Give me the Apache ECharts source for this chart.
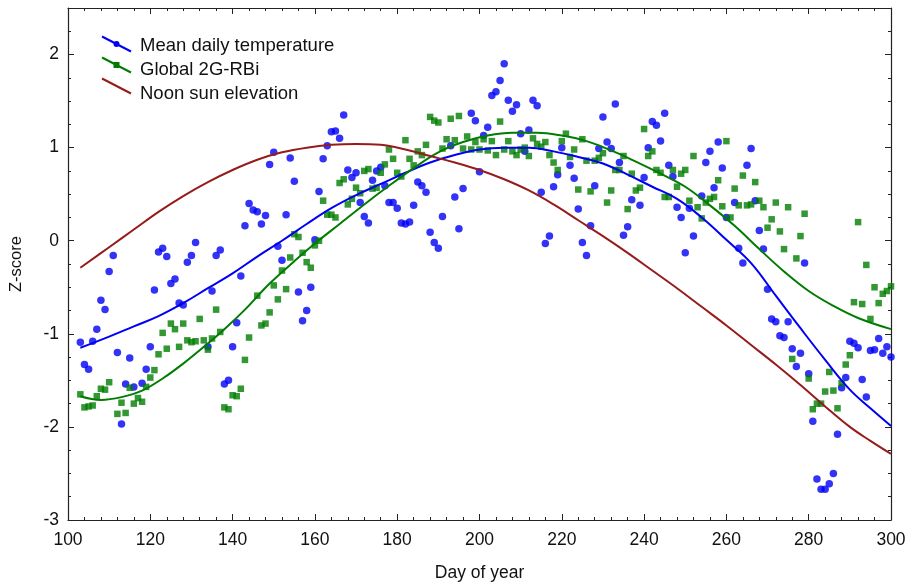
<!DOCTYPE html>
<html>
<head>
<meta charset="utf-8">
<script src="https://cdn.jsdelivr.net/npm/echarts@6/dist/echarts.min.js"></script>
<style>
  html, body { margin: 0; padding: 0; background: #fff; }
  #chart { width: 918px; height: 587px; }
</style>
</head>
<body>
<div id="chart"></div>
<script>
// mean daily temperature (z-score), by day of year
const tempDays = [103,104,105,106,107,108,109,110,111,112,113,114,115,116,118,119,120,121,122,123,124,125,126,127,128,129,130,131,
  134,135,136,137,138,139,140,141,142,143,144,145,146,147,148,149,150,151,152,153,154,155,156,157,158,159,160,161,162,163,164,165,166,167,
  168,169,170,171,172,173,174,175,176,177,178,179,180,181,182,183,184,185,186,187,188,189,190,191,193,194,195,196,198,199,200,201,202,
  203,204,205,206,207,208,209,210,211,212,213,214,215,216,217,218,219,220,222,223,224,225,226,227,228,229,230,231,232,233,234,235,236,
  237,239,240,241,242,243,244,245,246,247,248,249,250,251,252,254,255,256,257,258,259,260,262,263,264,265,266,267,268,269,270,271,272,
  273,274,275,276,277,278,279,280,281,282,283,284,285,286,287,288,289,290,291,292,293,294,295,296,297,298,299,300];
const tempValues = [-1.09,-1.33,-1.38,-1.08,-0.95,-0.64,-0.74,-0.33,-0.16,-1.20,-1.97,-1.54,-1.26,-1.57,-1.53,-1.38,-1.14,-0.53,-0.12,-0.08,-0.17,-0.46,-0.41,-0.67,-0.69,-0.23,-0.16,-0.02,
  -1.14,-0.54,-0.16,-0.10,-1.54,-1.50,-1.14,-0.88,-0.38,0.16,0.40,0.33,0.31,0.18,0.27,0.82,0.95,-0.06,-0.21,0.28,0.89,0.64,-0.55,-0.86,-0.75,-0.50,0.01,0.53,0.88,1.02,1.17,1.18,1.10,1.35,
  0.76,0.68,0.73,0.41,0.26,0.19,0.65,0.75,0.79,0.59,0.41,0.41,0.35,0.19,0.18,0.20,0.38,0.63,0.59,0.52,0.09,-0.02,-0.08,0.26,1.02,0.47,0.13,0.56,1.37,1.29,0.74,1.13,1.22,
  1.56,1.60,1.72,1.90,1.51,1.39,1.46,1.15,0.96,1.19,1.51,1.45,0.52,-0.03,0.05,0.58,0.71,1.00,0.81,0.67,0.34,-0.02,-0.16,0.16,0.59,0.99,1.33,1.06,0.99,1.47,0.84,0.06,0.15,
  0.44,0.38,0.68,1.00,1.28,1.24,1.07,1.37,0.81,0.69,0.36,0.25,-0.13,0.35,0.05,0.48,0.84,0.96,0.57,1.06,0.78,0.25,0.41,-0.08,-0.24,0.81,0.99,0.43,0.11,-0.09,-0.52,-0.84,-0.87,
  -1.02,-1.04,-0.87,-1.16,-1.35,-1.21,-0.24,-1.43,-1.94,-2.56,-2.67,-2.67,-2.61,-2.50,-2.08,-1.58,-1.47,-1.08,-1.10,-1.15,-1.49,-1.68,-1.18,-1.17,-1.05,-1.21,-1.14,-1.25];

// global 2G-RBi (z-score)
const rbiDays = [103,104,105,106,107,108,109,110,112,113,114,115,116,117,118,119,120,121,122,123,124,125,126,127,128,129,130,131,132,133,
  134,135,136,137,138,139,140,141,142,143,144,146,147,148,149,150,151,152,153,154,155,156,157,158,159,160,161,162,163,164,165,166,167,
  168,169,170,171,172,173,174,175,176,177,178,179,180,181,182,183,184,185,186,187,188,189,190,191,192,193,194,195,196,197,198,199,200,
  201,202,203,204,205,206,207,208,209,210,211,212,213,214,215,216,217,218,219,220,221,222,223,224,225,226,227,228,229,230,231,232,233,
  234,235,236,237,238,239,240,241,242,243,244,245,246,247,248,249,250,251,252,253,254,255,256,257,258,259,260,261,262,263,264,265,266,
  267,268,269,270,271,272,273,274,275,276,277,278,279,280,281,282,283,284,285,286,287,288,289,290,291,292,293,294,295,296,297,298,299,300];
const rbiValues = [-1.65,-1.79,-1.78,-1.77,-1.67,-1.59,-1.60,-1.52,-1.86,-1.74,-1.85,-1.58,-1.75,-1.69,-1.73,-1.57,-1.47,-1.39,-1.22,-0.99,-1.16,-0.89,-0.95,-1.14,-0.89,-1.07,-1.09,-1.08,-0.84,-1.07,
  -1.17,-1.05,-0.74,-0.98,-1.79,-1.81,-1.66,-1.67,-1.59,-1.28,-1.04,-0.59,-0.91,-0.89,-0.77,-0.48,-0.63,-0.32,-0.52,-0.18,0.07,0.04,-0.13,-0.23,-0.29,-0.05,0.00,0.43,0.28,0.28,0.25,0.62,0.66,
  0.39,0.45,0.57,0.51,0.75,0.77,0.56,0.57,0.73,0.82,0.98,0.88,0.73,0.69,1.08,0.88,0.81,0.96,0.92,1.03,1.33,1.29,1.27,0.99,1.09,1.31,1.08,1.34,0.99,1.12,0.98,1.06,0.98,
  1.09,0.97,1.07,0.92,1.28,0.98,1.07,0.96,0.92,0.98,1.00,0.91,1.10,1.04,1.01,1.06,0.92,0.84,0.76,1.07,1.15,0.90,0.98,0.55,1.09,0.86,0.53,0.86,0.89,0.94,0.41,0.54,0.76,
  0.76,0.91,0.34,0.72,0.54,0.57,1.20,0.91,0.96,0.76,0.73,0.47,0.47,0.76,0.58,0.72,0.76,0.43,0.91,0.36,0.24,0.41,0.45,0.47,0.65,0.37,1.07,0.25,0.56,0.38,0.70,0.38,0.39,
  0.63,0.43,0.36,0.14,0.23,0.41,0.10,-0.09,0.36,-1.27,-0.19,0.05,0.29,-1.48,-1.81,-1.75,-1.75,-1.62,-1.41,-1.61,-1.80,-1.53,-1.33,-1.23,-0.66,0.20,-0.68,-0.26,-0.84,-0.50,-0.67,-0.57,-0.54,-0.49];

// smoothed fits
const tempFitDays = [103,110,116,122,128,134,140,146,152,158,164,170,176,182,188,194,200,206,212,218,224,230,236,242,248,254,260,266,272,278,284,290,295,300];
const tempFitValues = [-1.15,-1.03,-0.92,-0.81,-0.67,-0.51,-0.35,-0.17,0.00,0.18,0.35,0.49,0.61,0.73,0.84,0.92,0.98,1.00,1.00,0.96,0.90,0.83,0.71,0.58,0.45,0.25,0.01,-0.24,-0.59,-0.94,-1.28,-1.60,-1.80,-1.99];

const rbiFitDays = [103,108,113,118,123,128,133,138,143,149,155,160,166,172,178,184,190,196,202,208,214,220,226,232,238,244,250,256,262,268,274,280,286,292,300];
const rbiFitValues = [-1.67,-1.71,-1.68,-1.61,-1.48,-1.32,-1.14,-0.95,-0.74,-0.46,-0.22,-0.03,0.18,0.39,0.59,0.78,0.95,1.06,1.13,1.16,1.16,1.13,1.07,0.97,0.85,0.72,0.58,0.38,0.16,-0.09,-0.33,-0.54,-0.70,-0.83,-0.95];

const sunDays = [103,110,116,122,128,134,140,146,152,158,164,170,176,182,188,194,200,206,212,218,224,230,236,242,248,254,260,266,272,278,284,290,295,300];
const sunValues = [-0.29,-0.07,0.12,0.31,0.48,0.63,0.76,0.87,0.95,1.00,1.03,1.04,1.03,0.98,0.91,0.84,0.76,0.66,0.54,0.39,0.22,0.05,-0.13,-0.32,-0.51,-0.71,-0.91,-1.12,-1.33,-1.55,-1.78,-2.00,-2.15,-2.29];

const legendNames = ['Mean daily temperature', 'Global 2G-RBi', 'Noon sun elevation'];

const pairs = (xs, ys) => xs.map((x, i) => [x, ys[i]]);

const blue = '#0000f5';
const green = '#007d00';
const red = '#961c1c';
const colors = [blue, green, red];

const axisColor = '#222';
const font = 'Liberation Sans, Arial, sans-serif';

// legend layout (icons are drawn by hand as slanted lines)
const legLeft = 102, legTop = 36, legW = 29, legH = 16, legGap = 5;

function frameAxis(extra) {
    return Object.assign({
        type: 'value',
        axisLine: { show: true, onZero: false, lineStyle: { color: axisColor, width: 1.2 } },
        axisTick: { show: true, inside: true, length: 6, lineStyle: { color: axisColor } },
        axisLabel: { show: false },
        splitLine: { show: false }
    }, extra);
}

const legendIcons = [];
colors.forEach((c, i) => {
    const y0 = legTop + i * (legH + legGap);
    legendIcons.push({
        type: 'line',
        shape: { x1: legLeft, y1: y0 + 0.5, x2: legLeft + legW, y2: y0 + legH - 0.5 },
        style: { stroke: c, lineWidth: 2 },
        z: 10
    });
    if (i === 0) {
        legendIcons.push({
            type: 'circle',
            shape: { cx: legLeft + legW / 2, cy: y0 + legH / 2, r: 3 },
            style: { fill: c },
            z: 10
        });
    } else if (i === 1) {
        legendIcons.push({
            type: 'rect',
            shape: { x: legLeft + legW / 2 - 3, y: y0 + legH / 2 - 3, width: 6, height: 6 },
            style: { fill: c },
            z: 10
        });
    }
});

const chart = echarts.init(document.getElementById('chart'));

chart.setOption({
    animation: false,
    backgroundColor: '#fff',
    textStyle: { fontFamily: font },
    grid: { left: 67, right: 27, top: 8, bottom: 67 },
    legend: {
        orient: 'vertical',
        left: legLeft,
        top: legTop,
        padding: 0,
        itemGap: legGap,
        itemWidth: legW,
        itemHeight: legH,
        icon: 'rect',
        itemStyle: { opacity: 0 },
        selectedMode: false,
        textStyle: { fontSize: 18.5, color: '#111', fontFamily: font, padding: [0, 0, 0, 4] },
        data: legendNames
    },
    graphic: legendIcons,
    xAxis: [
        frameAxis({
            position: 'bottom', min: 100, max: 300, interval: 20,
            minorTick: { show: true, splitNumber: 5, length: 3, lineStyle: { color: axisColor } },
            axisLabel: { show: true, fontSize: 17.5, color: '#111', margin: 11, fontFamily: font },
            name: 'Day of year', nameLocation: 'middle', nameGap: 44,
            nameTextStyle: { fontSize: 17.5, color: '#111', fontFamily: font }
        }),
        frameAxis({
            position: 'top', min: 100, max: 300, interval: 20,
            minorTick: { show: true, splitNumber: 5, length: 3, lineStyle: { color: axisColor } }
        })
    ],
    yAxis: [
        frameAxis({
            position: 'left', min: -3, max: 2.5, interval: 1,
            axisLabel: { show: true, fontSize: 17.5, color: '#111', margin: 9, showMaxLabel: false, fontFamily: font },
            name: 'Z-score', nameLocation: 'middle', nameGap: 43,
            nameTextStyle: { fontSize: 16.5, color: '#111', fontFamily: font }
        }),
        frameAxis({
            position: 'left', min: -3, max: 2.5, interval: 0.25,
            axisLine: { show: false },
            axisTick: { show: true, inside: true, length: 3, lineStyle: { color: axisColor } }
        }),
        frameAxis({ position: 'right', min: -3, max: 2.5, interval: 1 }),
        frameAxis({
            position: 'right', min: -3, max: 2.5, interval: 0.25,
            axisLine: { show: false },
            axisTick: { show: true, inside: true, length: 3, lineStyle: { color: axisColor } }
        })
    ],
    series: [
        {
            name: legendNames[0],
            type: 'scatter',
            data: pairs(tempDays, tempValues),
            symbol: 'circle',
            symbolSize: 7.5,
            itemStyle: { color: blue }
        },
        {
            name: legendNames[1],
            type: 'scatter',
            data: pairs(rbiDays, rbiValues),
            symbol: 'rect',
            symbolSize: 6.5,
            itemStyle: { color: green }
        },
        {
            name: legendNames[0],
            type: 'line',
            data: pairs(tempFitDays, tempFitValues),
            smooth: 0.4,
            showSymbol: false,
            lineStyle: { color: blue, width: 2 },
            itemStyle: { color: blue },
            z: 3
        },
        {
            name: legendNames[1],
            type: 'line',
            data: pairs(rbiFitDays, rbiFitValues),
            smooth: 0.4,
            showSymbol: false,
            lineStyle: { color: green, width: 2 },
            itemStyle: { color: green },
            z: 3
        },
        {
            name: legendNames[2],
            type: 'line',
            data: pairs(sunDays, sunValues),
            smooth: 0.4,
            showSymbol: false,
            lineStyle: { color: red, width: 2 },
            itemStyle: { color: red },
            z: 3
        }
    ]
});
</script>
</body>
</html>
